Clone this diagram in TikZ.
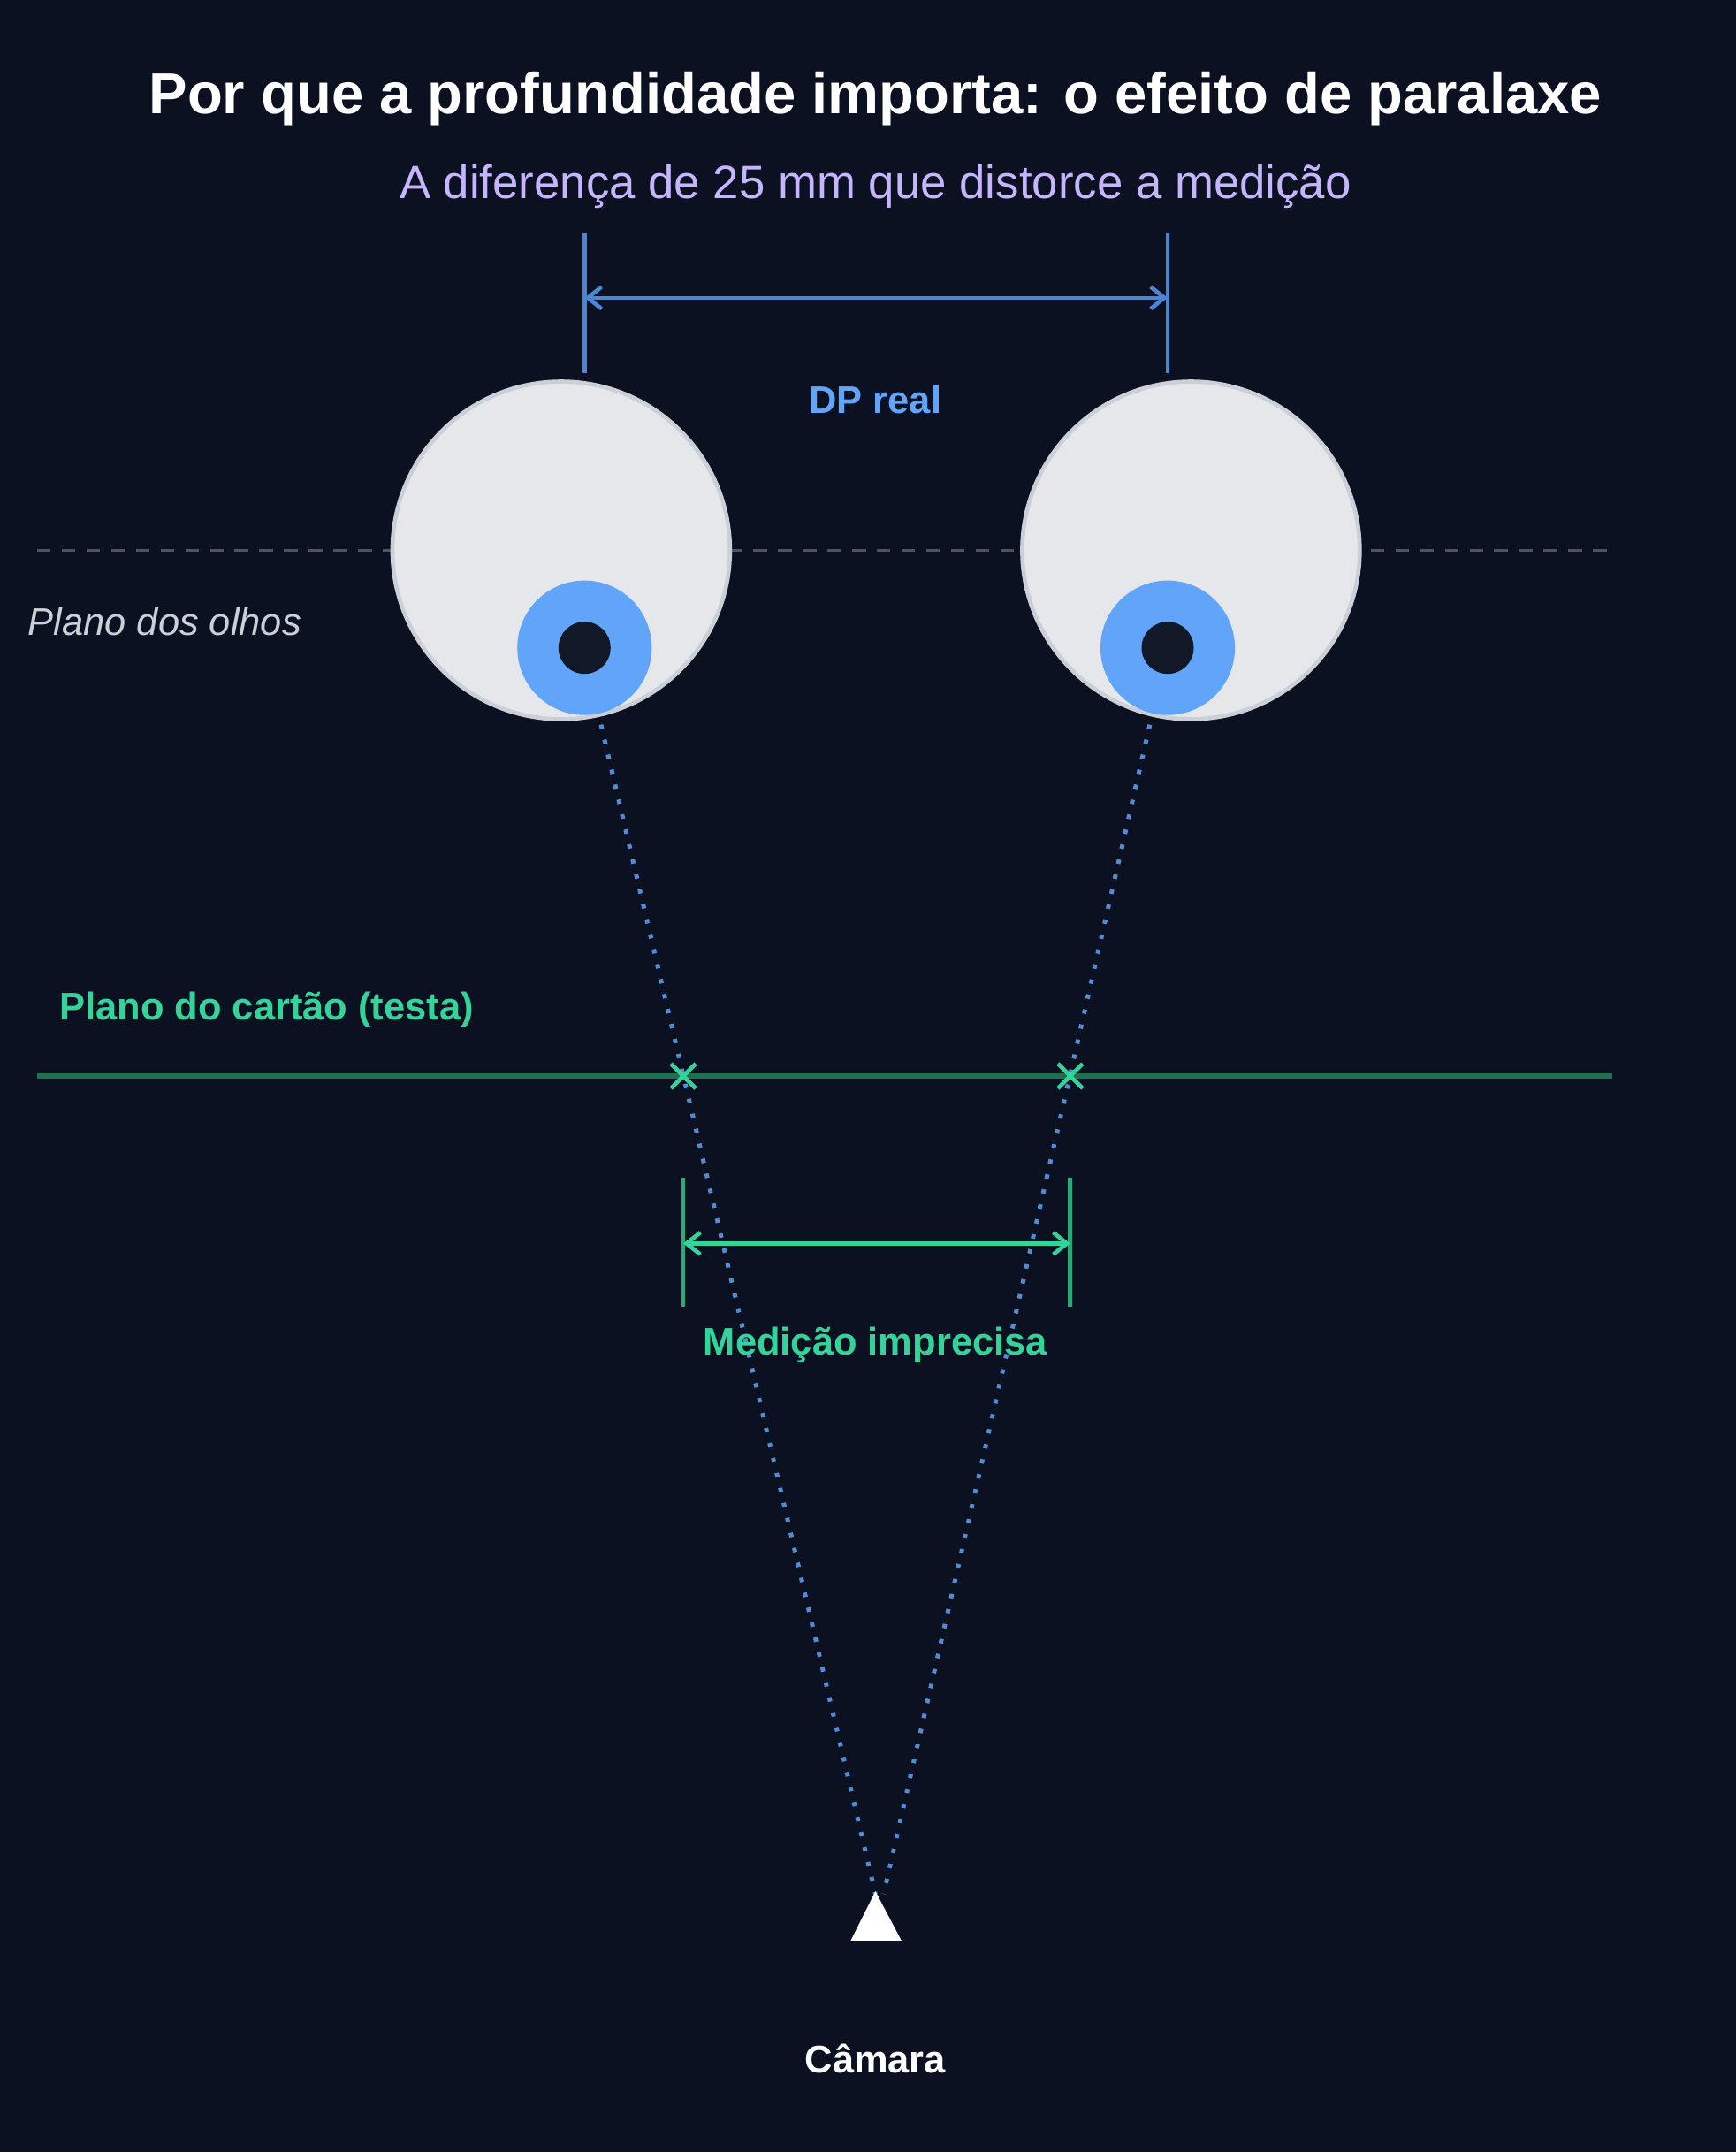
\documentclass[tikz,border=0pt]{standalone}
\usepackage{fontspec}
\setmainfont{Liberation Sans}
\usetikzlibrary{arrows.meta,calc}
\definecolor{bg}{HTML}{0B1120}
\definecolor{blu}{HTML}{60A5FA}
\definecolor{blud}{HTML}{4A86D4}
\definecolor{grn}{HTML}{34D399}
\definecolor{grnd}{HTML}{1F6F50}
\definecolor{purp}{HTML}{C4B5FD}
\definecolor{eye}{HTML}{E5E7EB}
\definecolor{eyes}{HTML}{CBD0D8}
\definecolor{pup}{HTML}{111827}
\begin{document}
\begin{tikzpicture}[x=0.5pt,y=-0.5pt,
  lbl/.style={inner sep=0,font=\bfseries\fontsize{14}{16}\selectfont},
  tick/.style={line width=1.5pt},
  dim/.style={line width=1.5pt,{Straight Barb[length=5pt,width=8pt]}-{Straight Barb[length=5pt,width=8pt]}},
  ray/.style={blu!85!black,line width=1.6pt,dash pattern=on 1.6pt off 4pt},
  eyeb/.style={circle,fill=eye,draw=eyes,line width=1.5pt,minimum size=123pt,inner sep=0},
  iris/.style={circle,fill=blu,minimum size=49pt,inner sep=0},
  pupil/.style={circle,fill=pup,minimum size=19pt,inner sep=0}]
\fill[bg] (0,0) rectangle (1265,1568);
\useasboundingbox (0,0) rectangle (1265,1568);
\node[text=white,font=\bfseries\fontsize{21}{24}\selectfont] (title) at (638,72) {Por que a profundidade importa: o efeito de paralaxe};
\node[text=purp,font=\fontsize{17}{20}\selectfont] (sub) at (638,136) {A diferença de 25 mm que distorce a medição};
% eye plane
\coordinate (ep1) at (27,401); \coordinate (ep2) at (1175,401);
\draw[gray!60!bg,line width=1pt,dash pattern=on 5pt off 4pt] (ep1) -- (ep2);
\node[anchor=west,text=eyes,font=\itshape\fontsize{14}{16}\selectfont,inner sep=0] (epl) at (20,453) {Plano dos olhos};
% eyes
\node[eyeb] (eL) at (409,401) {};
\node[eyeb] (eR) at (868,401) {};
\node[iris] (iL) at (426,472) {}; \node[pupil] (pL) at (426,472) {};
\node[iris] (iR) at (851,472) {}; \node[pupil] (pR) at (851,472) {};
% DP
\coordinate (t1a) at (426,170); \coordinate (t1b) at (426,272);
\coordinate (t2a) at (851,170); \coordinate (t2b) at (851,272);
\draw[tick,blud] (t1a) -- (t1b); \draw[tick,blud] (t2a) -- (t2b);
\coordinate (d1) at (426,217); \coordinate (d2) at (851,217);
\draw[dim,blud] (d1) -- (d2);
\node[lbl,text=blu] (dpl) at (638,291) {DP real};
% card plane
\coordinate (cp1) at (27,784); \coordinate (cp2) at (1175,784);
\draw[grnd,line width=2pt] (cp1) -- (cp2);
\node[lbl,anchor=west,text=grn] (cpl) at (43,736) {Plano do cartão (testa)};
% rays
\coordinate (rL) at (438,528); \coordinate (rR) at (838,528);
\coordinate (cam) at (638,1380); \coordinate (cam2) at (644,1380);
\draw[ray] (rL) -- (cam); \draw[ray] (rR) -- (cam2);
% crosses
\coordinate (xL) at (498,784); \coordinate (xR) at (780,784);
\foreach \p in {xL,xR}{\draw[grn,line width=1.5pt] ($(\p)+(-9,-9)$) -- ($(\p)+(9,9)$) ($(\p)+(-9,9)$) -- ($(\p)+(9,-9)$);}
% measure
\coordinate (m1a) at (498,858); \coordinate (m1b) at (498,952);
\coordinate (m2a) at (780,858); \coordinate (m2b) at (780,952);
\draw[tick,grn!80!black] (m1a) -- (m1b); \draw[tick,grn!80!black] (m2a) -- (m2b);
\coordinate (md1) at (498,906); \coordinate (md2) at (780,906);
\draw[dim,grn] (md1) -- (md2);
\node[lbl,text=grn] (mdl) at (638,980) {Medição imprecisa};
% camera
\fill[white] (638,1378) -- (657,1414) -- (620,1414) -- cycle;
\node[lbl,text=white] (caml) at (638,1500) {Câmara};
\end{tikzpicture}
\end{document}
